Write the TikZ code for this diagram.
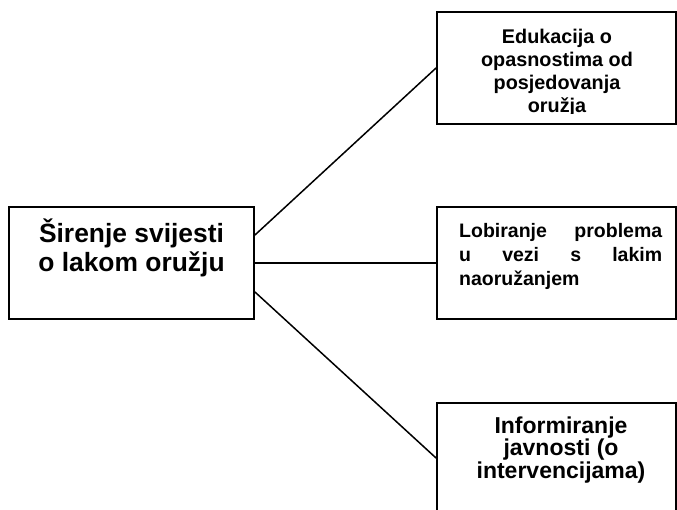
\documentclass[tikz,border=0pt]{standalone}
\usepackage{fontspec}
\setmainfont{Liberation Sans}
\usetikzlibrary{calc}
\begin{document}
\begin{tikzpicture}[x=1pt,y=-1pt,
  box/.style={draw=black, line width=1.9pt, rectangle, inner sep=0pt},
  link/.style={draw=black, line width=1.5pt},
  txt/.style={inner sep=0pt, anchor=base, font=\bfseries}]
\useasboundingbox (0,0) rectangle (677,510);
\clip (0,0) rectangle (677,510);
\node[box, minimum width=245pt, minimum height=112pt] (src) at (131.5,263) {};
\node[box, minimum width=239pt, minimum height=112pt] (edu) at (556.5,68) {};
\node[box, minimum width=239pt, minimum height=112pt] (lob) at (556.5,263) {};
\node[box, minimum width=239pt, minimum height=110pt] (inf) at (556.5,458) {};
% texts
\node[txt] (srct) at (131.5,243) {\parbox[t]{240pt}{\centering\fontsize{26.4}{29}\selectfont Širenje svijesti\\o lakom oružju}};
\begin{scope}
\clip (437,12) rectangle (676,113.6);
\node[txt] (edut) at (557,44) {\parbox[t]{230pt}{\centering\fontsize{19.8}{23}\selectfont Edukacija o\\opasnostima od\\posjedovanja\\oružja}};
\end{scope}
\node[txt, anchor=base west] (lobt) at (459,238) {\parbox[t]{203pt}{\fontsize{19.5}{24}\selectfont\makebox[203pt][s]{Lobiranje problema}\\\makebox[203pt][s]{u vezi s lakim}\\naoružanjem}};
\node[txt] (inft) at (561,433) {\parbox[t]{236pt}{\centering\fontsize{23}{22.5}\selectfont Informiranje\\javnosti (o\\intervencijama)}};
% connectors
\draw[link] ([yshift=28pt]src.east) -- (edu.west);
\draw[link] (src.east) -- (lob.west);
\draw[link] ([yshift=-29pt]src.east) -- (inf.west);
\end{tikzpicture}
\end{document}
